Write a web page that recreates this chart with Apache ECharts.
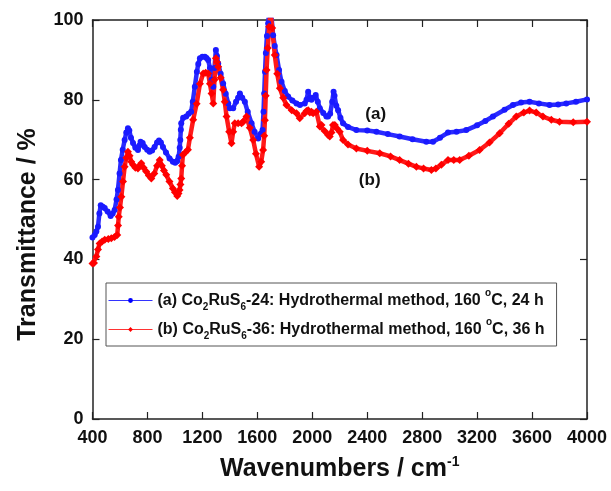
<!DOCTYPE html>
<html><head><meta charset="utf-8">
<script src="https://cdn.jsdelivr.net/npm/echarts@6/dist/echarts.min.js"></script>
<style>html,body{margin:0;padding:0;background:#fff}#c{width:611px;height:491px}</style>
</head><body><div id="c"></div>
<script>
// tick labels
const xTicks = [400, 800, 1200, 1600, 2000, 2400, 2800, 3200, 3600, 4000];
const yTicks = [0, 20, 40, 60, 80, 100];
// series (a): Co2RuS6-24, [wavenumber, transmittance]
const seriesA = [
[400,45.5],[416,46.1],[428,47],[440,48.2],[450,51.5],[460,53.6],[475,53.2],[489,52.9],[510,52],[532,50.9],[547,51.5],[561,52.4],[575,55],[585,57.4],[597,61.5],[607,64.9],[620,67.5],[634,69.9],[646,71.8],[658,72.9],[668,72.3],[680,70.5],[695,69.2],[712,68],[731,67.4],[740,68.5],[750,69.5],[765,69.2],[780,68.2],[798,67.5],[816,67],[834,67.3],[852,68.2],[870,69.3],[884,69.8],[898,69.3],[913,68.2],[935,66.8],[961,65.3],[985,64.5],[1002,64.2],[1016,64.6],[1027,65.7],[1035,68],[1039,69.9],[1043,72.5],[1046,74.1],[1060,75.5],[1082,75.8],[1100,76.5],[1118,77],[1130,79.5],[1145,83.3],[1160,87],[1170,89],[1182,90.4],[1200,90.8],[1218,90.8],[1230,90.5],[1242,90],[1255,88],[1267,85],[1279,83.3],[1288,88],[1298,92.5],[1306,91],[1315,89.1],[1333,86.5],[1351,84.1],[1370,81.5],[1388,79.1],[1400,77.9],[1424,77.9],[1445,79.5],[1460,80.5],[1473,81.6],[1490,80.5],[1509,79.5],[1530,77],[1558,74.1],[1580,72],[1606,70.3],[1625,71.5],[1638,72.4],[1645,77],[1650,81.6],[1656,87],[1662,91.7],[1670,96],[1679,99.2],[1688,103],[1700,102],[1715,96.2],[1727,93.5],[1740,91.2],[1758,87.5],[1776,84.5],[1800,82.2],[1824,80.8],[1855,79.8],[1885,79.1],[1910,78.7],[1945,79.1],[1958,80],[1970,82],[1982,80.5],[1994,80],[2010,80.5],[2025,81.2],[2040,79.5],[2055,77.9],[2080,76.7],[2103,75.8],[2115,75.8],[2130,76.5],[2145,79.5],[2155,82],[2162,81],[2175,78.5],[2188,77.4],[2205,75.5],[2224,74.1],[2260,73.2],[2321,72.4],[2400,72.3],[2467,72],[2550,71.4],[2636,70.8],[2730,70.1],[2830,69.5],[2879,69.5],[2930,70.5],[2988,71.8],[3050,72],[3121,72.4],[3200,73.6],[3260,74.7],[3315,75.8],[3400,77.5],[3461,78.7],[3520,79.3],[3582,79.5],[3650,79.1],[3727,78.7],[3790,78.8],[3849,79.1],[3920,79.5],[4000,80.1]
];
// series (b): Co2RuS6-36
const seriesB = [
[400,39],[411,39.1],[428,40.7],[440,42.5],[452,44],[470,44.5],[489,44.9],[515,45.1],[537,45.3],[560,45.6],[580,46.1],[586,48.5],[591,50.7],[600,53],[610,55.7],[622,59.5],[634,63.2],[646,65.5],[658,67],[670,66],[682,64.5],[695,63.7],[712,63],[731,62.8],[742,63.5],[755,64.1],[772,63],[791,62],[810,61],[828,60.3],[850,61.5],[870,63.5],[889,64.9],[905,63.5],[920,62.3],[937,61.2],[960,59.5],[985,57.8],[1000,56.8],[1017,55.9],[1026,56.5],[1034,57.4],[1040,58.8],[1046,60.3],[1052,63.5],[1058,66.2],[1075,66.8],[1095,67.5],[1109,70.5],[1133,75],[1158,79],[1182,84],[1206,86.6],[1224,86.8],[1242,86.6],[1255,84],[1267,81.6],[1279,79.1],[1288,85],[1298,90.4],[1306,89.5],[1315,88.3],[1333,85.5],[1351,82.5],[1363,79.5],[1376,75.8],[1395,72],[1412,69.1],[1424,72],[1436,74.1],[1460,74.1],[1485,74.1],[1497,74.5],[1521,75.8],[1545,73],[1570,69.9],[1590,66.5],[1613,63.2],[1628,64.5],[1642,67.4],[1650,71],[1655,74.9],[1661,81],[1667,87.5],[1676,93],[1686,98.3],[1696,102],[1708,98],[1727,91.2],[1745,86.5],[1764,82.9],[1788,80.5],[1812,78.7],[1850,77.4],[1885,76.6],[1909,75.4],[1945,76.6],[1958,77.2],[1970,77.4],[1982,76.8],[1994,77],[2006,76.6],[2030,77],[2055,73.3],[2067,73.7],[2090,72.2],[2115,71.2],[2127,70.8],[2140,71.8],[2151,73.7],[2164,73.7],[2180,72.8],[2200,72],[2224,69.9],[2260,68.8],[2321,67.8],[2400,67.2],[2491,66.6],[2570,65.8],[2636,64.9],[2700,64],[2758,63.2],[2810,62.8],[2867,62.4],[2900,62.8],[2940,63.7],[2988,64.9],[3030,64.9],[3073,64.9],[3140,66],[3218,67.4],[3290,69.3],[3364,71.6],[3430,74],[3485,75.8],[3540,76.8],[3582,77.3],[3630,76.8],[3679,75.8],[3740,75],[3800,74.5],[3900,74.4],[4000,74.5]
];
// curve tag positions
const tagA = [2462, 76.4];
const tagB = [2418, 59.9];

const FONT = 'Liberation Sans, Arial, sans-serif';
const chart = echarts.init(document.getElementById('c'), null, {renderer: 'canvas'});
const axisCommon = {
  axisLine: {show: true, onZero: false, lineStyle: {color: '#222', width: 1.5}},
  axisTick: {show: true, inside: true, length: 7, lineStyle: {color: '#222', width: 1.2}},
  splitLine: {show: false}
};
const labelStyle = {fontFamily: FONT, fontWeight: 'bold', fontSize: 18, color: '#111'};
const rich = {
  n: {fontFamily: FONT, fontWeight: 'bold', fontSize: 16, color: '#111'},
  sub: {fontFamily: FONT, fontWeight: 'bold', fontSize: 10, color: '#111', padding: [13, 0, 0, 0]},
  sup: {fontFamily: FONT, fontWeight: 'bold', fontSize: 10, color: '#111', padding: [0, 0, 15, 0]}
};
const legendNames = {
  a: '{n|(a) Co}{sub|2}{n|RuS}{sub|6}{n|-24: Hydrothermal method, 160 }{sup|o}{n|C, 24 h}',
  b: '{n|(b) Co}{sub|2}{n|RuS}{sub|6}{n|-36: Hydrothermal method, 160 }{sup|o}{n|C, 36 h}'
};
chart.setOption({
  animation: false,
  backgroundColor: '#fff',
  grid: {left: 92.5, right: 24, top: 20, bottom: 72, containLabel: false},
  legend: {
    orient: 'vertical', left: 106, top: 283, padding: [5, 12, 5, 2], itemGap: 5,
    itemWidth: 44, itemHeight: 6, borderColor: '#555', borderWidth: 1, backgroundColor: '#fff',
    data: [
      {name: 'a', itemStyle: {color: '#0000ff'}, lineStyle: {width: 1, color: '#3333ff'}},
      {name: 'b', itemStyle: {color: '#ff0000'}, lineStyle: {width: 1, color: '#ff3333'}}
    ],
    formatter: n => legendNames[n],
    textStyle: {fontFamily: FONT, fontWeight: 'bold', fontSize: 16, color: '#111', rich: rich}
  },
  xAxis: [
    Object.assign({}, axisCommon, {
      type: 'value', min: 400, max: 4000, interval: 400, position: 'bottom',
      axisLabel: Object.assign({margin: 10, formatter: v => xTicks.includes(v) ? String(v) : ''}, labelStyle),
      name: '{t|Wavenumbers / cm}{s|-1}', nameLocation: 'middle', nameGap: 36,
      nameTextStyle: {rich: {
        t: {fontFamily: FONT, fontWeight: 'bold', fontSize: 25, color: '#111'},
        s: {fontFamily: FONT, fontWeight: 'bold', fontSize: 14, color: '#111', padding: [0, 0, 14, 0]}
      }}
    }),
    Object.assign({}, axisCommon, {
      type: 'value', min: 400, max: 4000, interval: 400, position: 'top', axisLabel: {show: false}
    })
  ],
  yAxis: [
    Object.assign({}, axisCommon, {
      type: 'value', min: 0, max: 100, interval: 20, position: 'left',
      axisLabel: Object.assign({margin: 9, formatter: v => yTicks.includes(v) ? String(v) : ''}, labelStyle),
      name: 'Transmittance / %', nameLocation: 'middle', nameGap: 52,
      nameTextStyle: {fontFamily: FONT, fontWeight: 'bold', fontSize: 25, color: '#111', padding: [0, 30, 0, 0]}
    }),
    Object.assign({}, axisCommon, {
      type: 'value', min: 0, max: 100, interval: 20, position: 'right', axisLabel: {show: false}
    })
  ],
  series: [
    {
      name: 'a', type: 'line', data: seriesA, clip: true,
      symbol: 'circle', symbolSize: 6, showAllSymbol: true,
      itemStyle: {color: '#1a1aff'}, lineStyle: {color: '#2a2aff', width: 4.5},
      markPoint: {symbol: 'circle', symbolSize: 0, data: [{coord: tagA, value: '(a)'}],
        label: {show: true, formatter: '(a)', position: 'inside', fontFamily: FONT, fontWeight: 'bold', fontSize: 17, color: '#111'}}
    },
    {
      name: 'b', type: 'line', data: seriesB, clip: true,
      symbol: 'diamond', symbolSize: 8, showAllSymbol: true,
      itemStyle: {color: '#ff0000'}, lineStyle: {color: '#ff1a1a', width: 4.5},
      markPoint: {symbol: 'circle', symbolSize: 0, data: [{coord: tagB, value: '(b)'}],
        label: {show: true, formatter: '(b)', position: 'inside', fontFamily: FONT, fontWeight: 'bold', fontSize: 17, color: '#111'}}
    }
  ]
});
</script></body></html>
